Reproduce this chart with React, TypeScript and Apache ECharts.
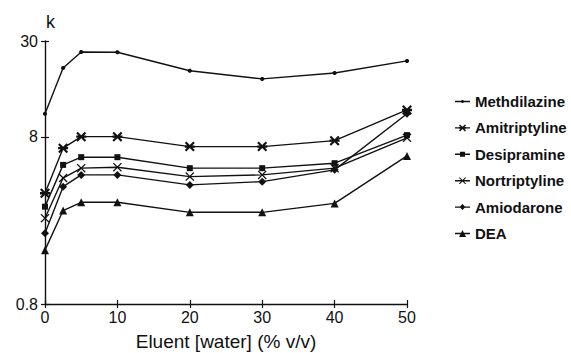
import React, { useEffect, useRef } from "react";
import * as echarts from "echarts";

const xValues = [0, 2.5, 5, 10, 20, 30, 40, 50];
const seriesNames = ["Methdilazine", "Amitriptyline", "Desipramine", "Nortriptyline", "Amiodarone", "DEA"];
const methdilazine = [11.0, 20.7, 25.8, 25.7, 19.9, 17.8, 19.3, 22.8];
const amitriptyline = [3.68, 6.85, 8.03, 8.03, 7.0, 7.0, 7.6, 11.6];
const desipramine = [3.06, 5.44, 6.05, 6.05, 5.2, 5.2, 5.57, 8.2];
const nortriptyline = [2.61, 4.54, 5.2, 5.27, 4.63, 4.74, 5.2, 7.9];
const amiodarone = [2.12, 4.03, 4.74, 4.74, 4.13, 4.32, 5.08, 11.0];
const dea = [1.68, 2.9, 3.25, 3.25, 2.83, 2.83, 3.2, 6.16];
const yTicks = [0.8, 8, 30];

const FONT = "'Liberation Sans', Arial, sans-serif";
const INK = "#111";

// marker shapes in a 10x10 unit box (all clockwise in screen coordinates)
const X_PTS = [[1, 0], [5, 4], [9, 0], [10, 1], [6, 5], [10, 9], [9, 10], [5, 6], [1, 10], [0, 9], [4, 5], [0, 1]];
const STAR_PTS = [[0, 1.5], [1.5, 0], [5, 3.5], [8.5, 0], [10, 1.5], [6.5, 5], [10, 8.5], [8.5, 10], [5, 6.5], [1.5, 10], [0, 8.5], [3.5, 5]];
const BAR_PTS = [[0, 3.8], [10, 3.8], [10, 6.2], [0, 6.2]];
const RECT_PTS = [[0, 0], [10, 0], [10, 10], [0, 10]];
const DIAMOND_PTS = [[5, 0], [10, 5], [5, 10], [0, 5]];
const TRI_PTS = [[5, 0], [10, 10], [0, 10]];
const DOT_PTS = [[3, 0], [7, 0], [10, 3], [10, 7], [7, 10], [3, 10], [0, 7], [0, 3]];

function poly(pts: number[][], s: number, ox: number, oy: number) {
  return "M" + pts.map((p) => `${(ox + p[0] * s).toFixed(2)},${(oy + p[1] * s).toFixed(2)}`).join("L") + "Z";
}
function markerPath(shapes: number[][][]) {
  return "path://" + shapes.map((p) => poly(p, 1, 0, 0)).join(" ");
}
// legend icon: horizontal line 15 wide with a small marker of size m in the middle
function legendIcon(shapes: number[][][], m: number) {
  const s = m / 10;
  const ox = 7.5 - m / 2;
  const cy = m / 2;
  const line = `M0,${(cy - 0.7).toFixed(2)}L15,${(cy - 0.7).toFixed(2)}L15,${(cy + 0.7).toFixed(2)}L0,${(cy + 0.7).toFixed(2)}Z`;
  return "path://" + line + " " + shapes.map((p) => poly(p, s, ox, 0)).join(" ");
}

const seriesShapes = [[DOT_PTS], [STAR_PTS, BAR_PTS], [RECT_PTS], [X_PTS], [DIAMOND_PTS], [TRI_PTS]];
const seriesSizes = [4, 10, 6, 9, 8, 8];
const legendSizes = [3, 7, 5, 7, 6, 7];

export default function App() {
  const ref = useRef<HTMLDivElement>(null);
  useEffect(() => {
    if (!ref.current) return;
    const chart = echarts.init(ref.current, null, { renderer: "svg" });
    const datasets = [methdilazine, amitriptyline, desipramine, nortriptyline, amiodarone, dea];
    const series = datasets.map((d, i) => ({
      name: seriesNames[i],
      type: "line",
      data: xValues.map((x, j) => [x, d[j]]),
      symbol: markerPath(seriesShapes[i]),
      symbolSize: seriesSizes[i],
      showSymbol: true,
      lineStyle: { color: INK, width: 1.4 },
      itemStyle: { color: INK, borderWidth: 0 },
      xAxisIndex: 0,
      yAxisIndex: 0,
    }));
    const axisCommonY = {
      type: "log",
      logBase: 10,
      min: 0.8,
      max: 30,
      splitLine: { show: false },
      minorTick: { show: false },
    };
    const axisCommonX = {
      type: "value",
      min: 0,
      max: 50,
      interval: 10,
      splitLine: { show: false },
    };
    chart.setOption({
      animation: false,
      backgroundColor: "#fff",
      grid: { left: 45, top: 41, width: 362, height: 263, containLabel: false, outerBoundsMode: "none" },
      legend: {
        orient: "vertical",
        left: 450,
        top: 89,
        itemWidth: 15,
        itemHeight: 16,
        itemGap: 11.4,
        symbolKeepAspect: true,
        textStyle: { fontFamily: FONT, fontSize: 15, fontWeight: "bold", color: INK },
        data: seriesNames.map((n, i) => ({
          name: n,
          icon: legendIcon(seriesShapes[i], legendSizes[i]),
          itemStyle: { color: INK, borderWidth: 0 },
        })),
      },
      xAxis: [
        {
          ...axisCommonX,
          name: "Eluent [water] (% v/v)",
          nameLocation: "middle",
          nameGap: 28,
          nameTextStyle: { fontFamily: FONT, fontSize: 19, color: INK },
          axisLine: { show: true, lineStyle: { color: INK, width: 1.4 } },
          axisTick: { show: true, length: 4, lineStyle: { color: INK, width: 1.2 } },
          axisLabel: { fontFamily: FONT, fontSize: 16, color: INK, margin: 5 },
        },
        {
          ...axisCommonX,
          position: "bottom",
          axisLine: { show: false },
          axisTick: { show: true, inside: true, length: 4, lineStyle: { color: INK, width: 1.2 } },
          axisLabel: { show: false },
        },
      ],
      yAxis: [
        {
          ...axisCommonY,
          name: "k",
          nameLocation: "end",
          nameGap: 10,
          nameTextStyle: {
            fontFamily: FONT,
            fontSize: 18,
            color: INK,
            align: "left",
            verticalAlign: "bottom",
            padding: [0, 0, 0, 1],
          },
          axisLine: { show: true, lineStyle: { color: INK, width: 1.4 } },
          axisTick: { show: true, length: 4, customValues: yTicks, lineStyle: { color: INK, width: 1.2 } },
          axisLabel: {
            fontFamily: FONT,
            fontSize: 16,
            color: INK,
            margin: 7,
            customValues: yTicks,
            formatter: (v: number) => String(v),
          },
        },
        {
          ...axisCommonY,
          position: "left",
          axisLine: { show: false },
          axisTick: { show: true, inside: true, length: 4, customValues: yTicks, lineStyle: { color: INK, width: 1.2 } },
          axisLabel: { show: false, customValues: yTicks },
        },
      ],
      series,
    });
    return () => chart.dispose();
  }, []);
  return <div ref={ref} style={{ position: "fixed", left: 0, top: 0, width: 571, height: 353 }} />;
}
